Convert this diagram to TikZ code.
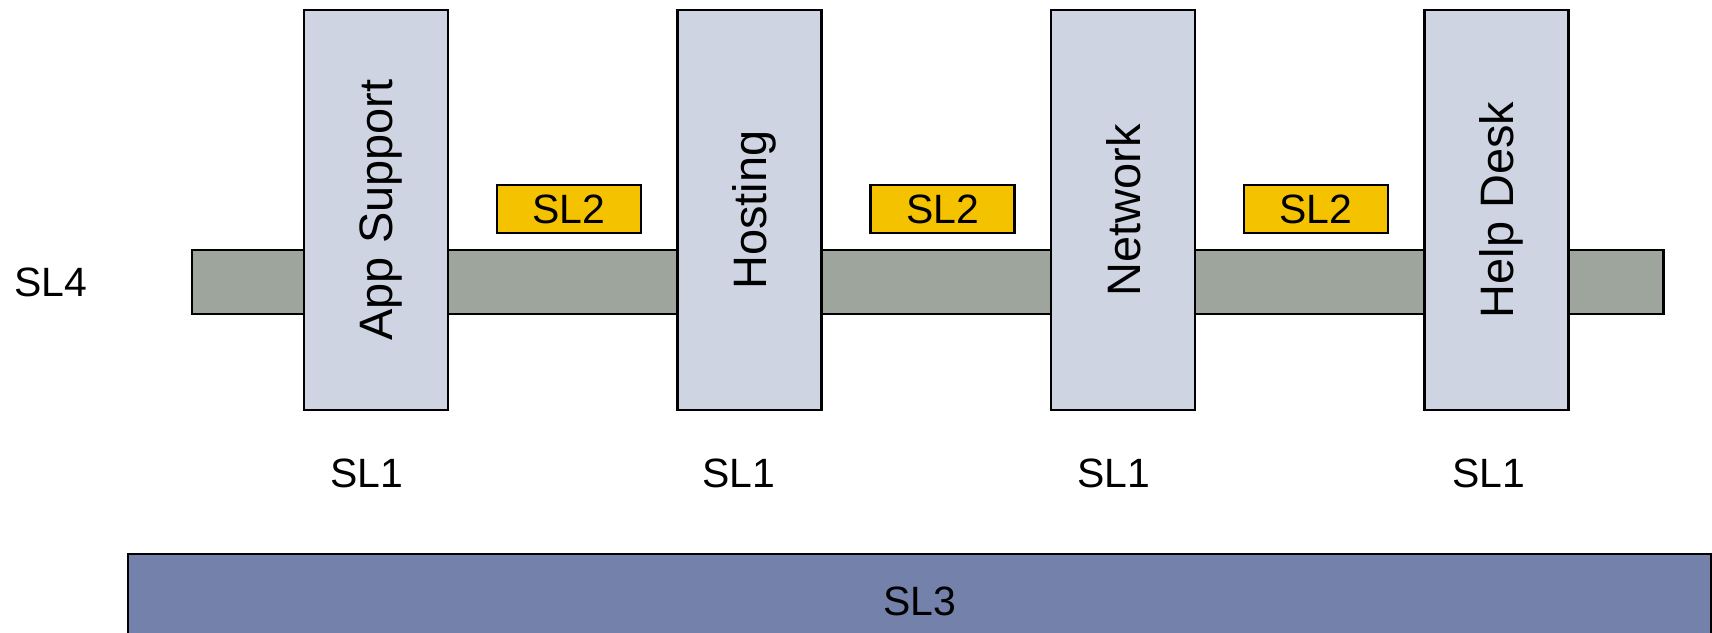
\documentclass[tikz,border=0pt]{standalone}
\usepackage{fontspec}
\setmainfont{Liberation Sans}
\definecolor{colfill}{HTML}{CED4E2}
\definecolor{barfill}{HTML}{9EA59C}
\definecolor{slyellow}{HTML}{F5C200}
\definecolor{slblue}{HTML}{7381AB}
\tikzset{
  lbl/.style={font=\fontsize{23.3}{28}\selectfont},
  slbar/.style={draw=black, line width=1.5pt, fill=barfill, inner sep=0pt,
    minimum width=29.43cm, minimum height=1.28cm},
  slcol/.style={draw=black, line width=1.5pt, fill=colfill, inner sep=0pt,
    rotate=90, minimum width=8cm, minimum height=2.88cm, text depth=0pt,
    font=\fontsize{26.7}{32}\selectfont},
  slbox/.style={draw=black, line width=1.5pt, fill=slyellow, inner sep=0pt,
    minimum width=2.88cm, minimum height=0.96cm, lbl},
  slbase/.style={draw=black, line width=1.5pt, fill=slblue, inner sep=0pt,
    minimum width=31.66cm, minimum height=1.88cm, lbl}
}
\begin{document}
\begin{tikzpicture}
            \clip (0,0) rectangle (34.24,12.64);
            % SL4 bar behind the columns
            \node[slbar] (bar) at (18.555,7.0) {};
            \node[lbl] (sl4) at (1.02,7.0) {SL4};
            % service columns
            \node[slcol] (app) at (7.52,8.44) {App Support};
            \node[slcol] (hosting) at (14.99,8.44) {Hosting};
            \node[slcol] (network) at (22.46,8.44) {Network};
            \node[slcol] (helpdesk) at (29.93,8.44) {Help Desk};
            % SL2 boxes between the columns
            \node[slbox] (two a) at (11.38,8.46) {SL2};
            \node[slbox] (two b) at (18.85,8.46) {SL2};
            \node[slbox] (two c) at (26.32,8.46) {SL2};
            % SL1 under each column
            \node[lbl] (one a) at (7.34,3.18) {SL1};
            \node[lbl] (one b) at (14.78,3.18) {SL1};
            \node[lbl] (one c) at (22.27,3.18) {SL1};
            \node[lbl] (one d) at (29.77,3.18) {SL1};
            % SL3 base
            \node[slbase] (base) at (18.39,0.62) {SL3};
\end{tikzpicture}
\end{document}
